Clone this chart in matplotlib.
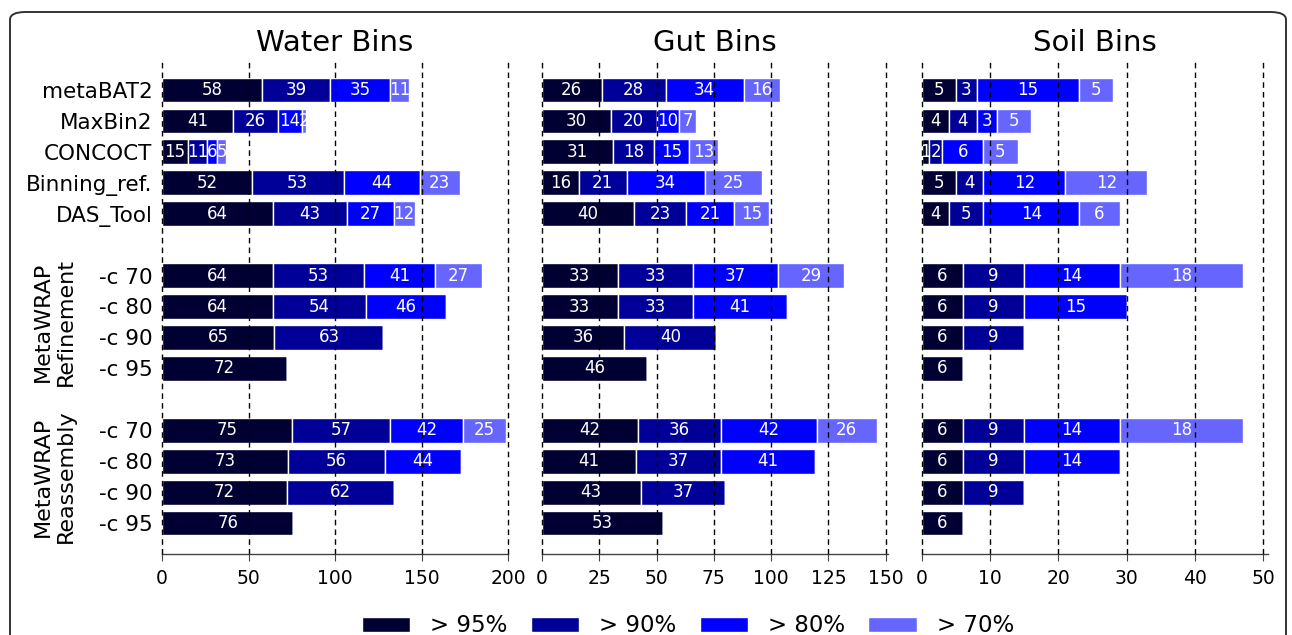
import matplotlib
matplotlib.use("Agg")
import matplotlib.pyplot as plt
from matplotlib.patches import FancyBboxPatch
from matplotlib.transforms import blended_transform_factory

# rows: 5 binners, then refinement (-c 70..95), then reassembly (-c 70..95)
row_labels = ["metaBAT2", "MaxBin2", "CONCOCT", "Binning_ref.", "DAS_Tool",
              "-c 70", "-c 80", "-c 90", "-c 95",
              "-c 70", "-c 80", "-c 90", "-c 95"]
groups = [5, 4, 4]  # rows per block
group_names = [None, "MetaWRAP\nRefinement", "MetaWRAP\nReassembly"]

legend_labels = ["> 95%", "> 90%", "> 80%", "> 70%"]
colors = ["#000033", "#000099", "#0000ff", "#6666ff"]

# counts per threshold (0 = no segment)
water_95 = [58, 41, 15, 52, 64, 64, 64, 65, 72, 75, 73, 72, 76]
water_90 = [39, 26, 11, 53, 43, 53, 54, 63, 0, 57, 56, 62, 0]
water_80 = [35, 14, 6, 44, 27, 41, 46, 0, 0, 42, 44, 0, 0]
water_70 = [11, 2, 5, 23, 12, 27, 0, 0, 0, 25, 0, 0, 0]

gut_95 = [26, 30, 31, 16, 40, 33, 33, 36, 46, 42, 41, 43, 53]
gut_90 = [28, 20, 18, 21, 23, 33, 33, 40, 0, 36, 37, 37, 0]
gut_80 = [34, 10, 15, 34, 21, 37, 41, 0, 0, 42, 41, 0, 0]
gut_70 = [16, 7, 13, 25, 15, 29, 0, 0, 0, 26, 0, 0, 0]

soil_95 = [5, 4, 1, 5, 4, 6, 6, 6, 6, 6, 6, 6, 6]
soil_90 = [3, 4, 2, 4, 5, 9, 9, 9, 0, 9, 9, 9, 0]
soil_80 = [15, 3, 6, 12, 14, 14, 15, 0, 0, 14, 14, 0, 0]
soil_70 = [5, 5, 5, 12, 6, 18, 0, 0, 0, 18, 0, 0, 0]

panels = [
    ("Water Bins", [water_95, water_90, water_80, water_70], (0, 200), [0, 50, 100, 150, 200]),
    ("Gut Bins", [gut_95, gut_90, gut_80, gut_70], (0, 151), [0, 25, 50, 75, 100, 125, 150]),
    ("Soil Bins", [soil_95, soil_90, soil_80, soil_70], (0, 50.7), [0, 10, 20, 30, 40, 50]),
]

# y positions with one empty slot between blocks
ypos = []
start = 0
for n in groups:
    ypos += list(range(start, start + n))
    start += n + 1

W, H = 1292, 635
fig = plt.figure(figsize=(W / 100, H / 100), dpi=100)

# rounded frame around the figure (bottom runs off the canvas)
frame = FancyBboxPatch((10 / W, -30 / H), 1276 / W, (H - 12 + 30) / H,
                       boxstyle="round,pad=0,rounding_size=0.012",
                       transform=fig.transFigure, fill=False,
                       edgecolor="#333333", linewidth=1.4)
fig.patches.append(frame)

lefts = [162, 542, 922]
ax_w = 346
top, bottom = 59, 554

axes = []
for i, (title, series, xlim, xticks) in enumerate(panels):
    ax = fig.add_axes([lefts[i] / W, 1 - bottom / H, ax_w / W, (bottom - top) / H])
    axes.append(ax)
    left = [0] * len(ypos)
    for vals, col in zip(series, colors):
        bars = ax.barh(ypos, vals, left=left, height=0.8, color=col,
                       edgecolor="white", linewidth=1.0, zorder=2)
        for b, v in zip(bars, vals):
            if v > 0:
                ax.text(b.get_x() + b.get_width() / 2, b.get_y() + b.get_height() / 2,
                        str(v), ha="center", va="center", color="white",
                        fontsize=12, zorder=4)
        left = [l + v for l, v in zip(left, vals)]

    ax.set_xlim(*xlim)
    ax.set_ylim(15, -1)
    ax.set_xticks(xticks)
    ax.grid(axis="x", color="black", linestyle=(0, (4, 3)), linewidth=1.0, zorder=3)
    for gl in ax.xaxis.get_gridlines():
        gl.set_clip_on(False)
    ax.set_axisbelow(False)
    for s in ["top", "right", "left"]:
        ax.spines[s].set_visible(False)
    ax.spines["bottom"].set_color("#444444")
    ax.spines["bottom"].set_linewidth(1.0)
    ax.tick_params(axis="x", labelsize=13.5, length=5, color="#444444", pad=6)
    ax.tick_params(axis="y", length=0)
    ax.set_title(title, fontsize=21, pad=6)
    if i == 0:
        ax.set_yticks(ypos)
        ax.set_yticklabels(row_labels, fontsize=15.5)
        ax.tick_params(axis="y", pad=7)
    else:
        ax.set_yticks([])

# block labels on the left
trans = blended_transform_factory(fig.transFigure, axes[0].transData)
start = 0
for n, name in zip(groups, group_names):
    if name:
        ax_center = start + (n - 1) / 2
        axes[0].text(54 / W, ax_center, name, transform=trans, rotation=90,
                     ha="center", va="center", fontsize=16, linespacing=1.2,
                     multialignment="center")
    start += n + 1

handles = [plt.Rectangle((0, 0), 1, 1, facecolor=c, edgecolor="white") for c in colors]
fig.legend(handles, legend_labels, loc="center", bbox_to_anchor=(688 / W, 1 - 626 / H),
           ncol=4, frameon=False, fontsize=16.5, handlelength=2.1, handleheight=0.6,
           handletextpad=0.9, columnspacing=1.0)

fig.savefig("out.png", dpi=100)
